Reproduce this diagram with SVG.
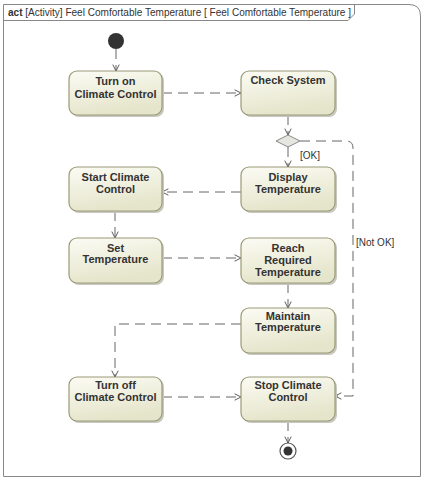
<svg xmlns="http://www.w3.org/2000/svg" width="425" height="479" viewBox="0 0 425 479">
<defs>
<linearGradient id="g" x1="0" y1="0" x2="0.3" y2="1">
<stop offset="0" stop-color="#fbfbf4"/>
<stop offset="1" stop-color="#e5e5cb"/>
</linearGradient>
<marker id="a" viewBox="0 0 10 10" refX="9" refY="5" markerWidth="8" markerHeight="8" orient="auto" markerUnits="userSpaceOnUse">
<path d="M1,1 L9,5 L1,9" fill="none" stroke="#555" stroke-width="1.2"/>
</marker>
</defs>
<style>
.n{fill:url(#g);stroke:#9a9a78;stroke-width:1.2}
.s{fill:#c8c8c0}
.t{font-family:"Liberation Sans",Arial,sans-serif;font-size:11px;font-weight:bold;fill:#333;text-anchor:middle}
.l{font-family:"Liberation Sans",Arial,sans-serif;font-size:10px;fill:#333}
.c{fill:none;stroke:#666;stroke-width:1;stroke-dasharray:10,6;marker-end:url(#a)}
</style>
<rect width="425" height="479" fill="#fff"/>
<g id="frame">
<path d="M3.5,476.5 V4.5 H409 Q420.5,4.5 420.5,16 V476.5 Z" fill="#fff" stroke="#888" stroke-width="1"/>
<path d="M3.5,20.5 H348 L354.5,14 V4.5" fill="none" stroke="#888" stroke-width="1"/>
<text x="8" y="16" font-family="Liberation Sans,Arial,sans-serif" font-size="10.2" fill="#333" textLength="343" lengthAdjust="spacingAndGlyphs"><tspan font-weight="bold">act</tspan> [Activity] Feel Comfortable Temperature [ Feel Comfortable Temperature ]</text>
</g>
<g id="connectors">
<path class="c" d="M116,49 V71"/>
<path class="c" d="M162,93 H241"/>
<path class="c" d="M288,115 V135"/>
<path class="c" d="M288,147 V167"/>
<path class="c" d="M241,192 H162"/>
<path class="c" d="M115,211 V238"/>
<path class="c" d="M162,258 H241"/>
<path class="c" d="M288,283 V308"/>
<path class="c" d="M241,324 H115 V377"/>
<path class="c" d="M162,397 H241"/>
<path class="c" d="M300,141 H346 Q353,141 353,148 V396 H335"/>
<path class="c" d="M288,421 V443"/>
<text class="l" x="300" y="159">[OK]</text>
<text class="l" x="356" y="246">[Not OK]</text>
</g>
<g id="initial"><circle cx="116" cy="41" r="8" fill="#333"/></g>
<g id="turnOn"><rect class="s" x="71" y="73" width="93" height="44" rx="8"/><rect class="n" x="69" y="71" width="93" height="44" rx="8"/><text class="t" x="115.5" y="85">Turn on</text><text class="t" x="115.5" y="98">Climate Control</text></g>
<g id="checkSystem"><rect class="s" x="243" y="73" width="94" height="44" rx="8"/><rect class="n" x="241" y="71" width="94" height="44" rx="8"/><text class="t" x="288" y="84">Check System</text></g>
<g id="decision"><path d="M276,141 L288,135 L300,141 L288,147 Z" fill="#e6e6e0" stroke="#888" stroke-width="1"/></g>
<g id="startClimate"><rect class="s" x="71" y="169" width="93" height="44" rx="8"/><rect class="n" x="69" y="167" width="93" height="44" rx="8"/><text class="t" x="115.5" y="181">Start Climate</text><text class="t" x="115.5" y="193">Control</text></g>
<g id="displayTemp"><rect class="s" x="243" y="169" width="94" height="44" rx="8"/><rect class="n" x="241" y="167" width="94" height="44" rx="8"/><text class="t" x="288" y="181">Display</text><text class="t" x="288" y="193">Temperature</text></g>
<g id="setTemp"><rect class="s" x="71" y="240" width="93" height="45" rx="8"/><rect class="n" x="69" y="238" width="93" height="45" rx="8"/><text class="t" x="115.5" y="252">Set</text><text class="t" x="115.5" y="263">Temperature</text></g>
<g id="reachTemp"><rect class="s" x="243" y="240" width="94" height="45" rx="8"/><rect class="n" x="241" y="238" width="94" height="45" rx="8"/><text class="t" x="288" y="252">Reach</text><text class="t" x="288" y="264">Required</text><text class="t" x="288" y="276">Temperature</text></g>
<g id="maintainTemp"><rect class="s" x="243" y="310" width="94" height="45" rx="8"/><rect class="n" x="241" y="308" width="94" height="45" rx="8"/><text class="t" x="288" y="320">Maintain</text><text class="t" x="288" y="331">Temperature</text></g>
<g id="turnOff"><rect class="s" x="71" y="379" width="93" height="44" rx="8"/><rect class="n" x="69" y="377" width="93" height="44" rx="8"/><text class="t" x="115.5" y="389">Turn off</text><text class="t" x="115.5" y="401">Climate Control</text></g>
<g id="stopClimate"><rect class="s" x="243" y="379" width="94" height="44" rx="8"/><rect class="n" x="241" y="377" width="94" height="44" rx="8"/><text class="t" x="288" y="389">Stop Climate</text><text class="t" x="288" y="401">Control</text></g>
<g id="final"><circle cx="288" cy="451" r="8" fill="#fff" stroke="#555" stroke-width="1.2"/><circle cx="288" cy="451" r="4.5" fill="#333"/></g>
</svg>
